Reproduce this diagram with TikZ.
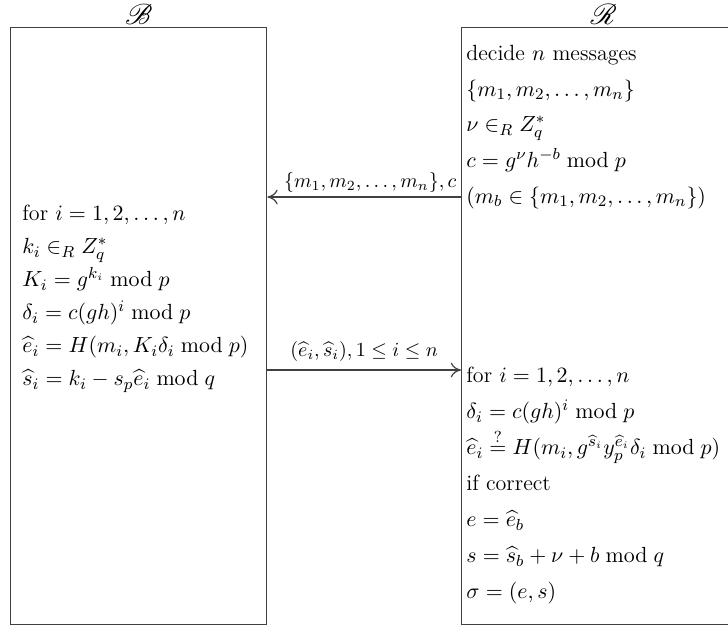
\documentclass[tikz,border=0pt]{standalone}
\usepackage{amsmath,amssymb,mathrsfs}
\usetikzlibrary{arrows.meta,positioning,calc}
\tikzset{
  party/.style={draw=black!75, line width=0.7pt, anchor=north west, inner sep=0pt},
  partylbl/.style={inner sep=0pt, font=\Large},
  steps/.style={align=left, anchor=north west, inner sep=0pt, font=\fontsize{11}{16.5}\selectfont},
  arrow/.style={-{To[length=1.8mm,width=2.6mm]}, draw=black!75, line width=0.6pt}
}

\begin{document}
\begin{tikzpicture}[x=0.5pt, y=-0.5pt]
  \useasboundingbox (0,0) rectangle (728,628);
  % the two parties
  \node[party, minimum width=128pt, minimum height=298.5pt] (signer) at (10,27) {};
  \node[party, minimum width=142pt, minimum height=298.5pt] (requester) at (461,27) {};
  \coordinate (lbl) at (0,14);
  \node[partylbl] (signerlbl) at (signer.north |- lbl) {$\mathscr{B}$};
  \node[partylbl] (requesterlbl) at (requester.north |- lbl) {$\mathscr{R}$};
  % requester, first step
  \node[steps, font=\fontsize{11}{17.8}\selectfont] (choose) at (466,45) {decide $n$ messages\\
    $\{m_1, m_2, \ldots, m_n\}$\\
    $\nu \in_R Z_q^*$\\
    $c = g^{\nu} h^{-b} \bmod p$\\
    $(m_b \in \{m_1, m_2, \ldots, m_n\})$};
  % signer
  \node[steps] (sign) at (22,205) {for $i = 1, 2, \ldots, n$\\
    $k_i \in_R Z_q^*$\\
    $K_i = g^{k_i} \bmod p$\\
    $\delta_i = c(gh)^i \bmod p$\\
    $\widehat{e}_i = H(m_i, K_i\delta_i \bmod p)$\\
    $\widehat{s}_i = k_i - s_p\widehat{e}_i \bmod q$};
  % requester, check
  \node[steps, font=\fontsize{11}{18}\selectfont] (check) at (466,367) {for $i = 1, 2, \ldots, n$\\
    $\delta_i = c(gh)^i \bmod p$\\
    $\widehat{e}_i \overset{?}{=} H(m_i, g^{\widehat{s}_i} y_p^{\widehat{e}_i}\delta_i \bmod p)$\\
    if correct\\
    $e = \widehat{e}_b$\\
    $s = \widehat{s}_b + \nu + b \bmod q$\\
    $\sigma = (e, s)$};
  % messages
  \coordinate (msg) at (0,197);
  \coordinate (resp) at (0,370);
  \draw[arrow] (requester.west |- msg) -- node[pos=0, above left, inner sep=2pt]{$\{m_1, m_2, \ldots, m_n\}, c$} (signer.east |- msg);
  \draw[arrow] (signer.east |- resp) -- node[midway, above, inner sep=4pt]{$(\widehat{e}_i, \widehat{s}_i), 1 \leq i \leq n$} (requester.west |- resp);
\end{tikzpicture}
\end{document}
